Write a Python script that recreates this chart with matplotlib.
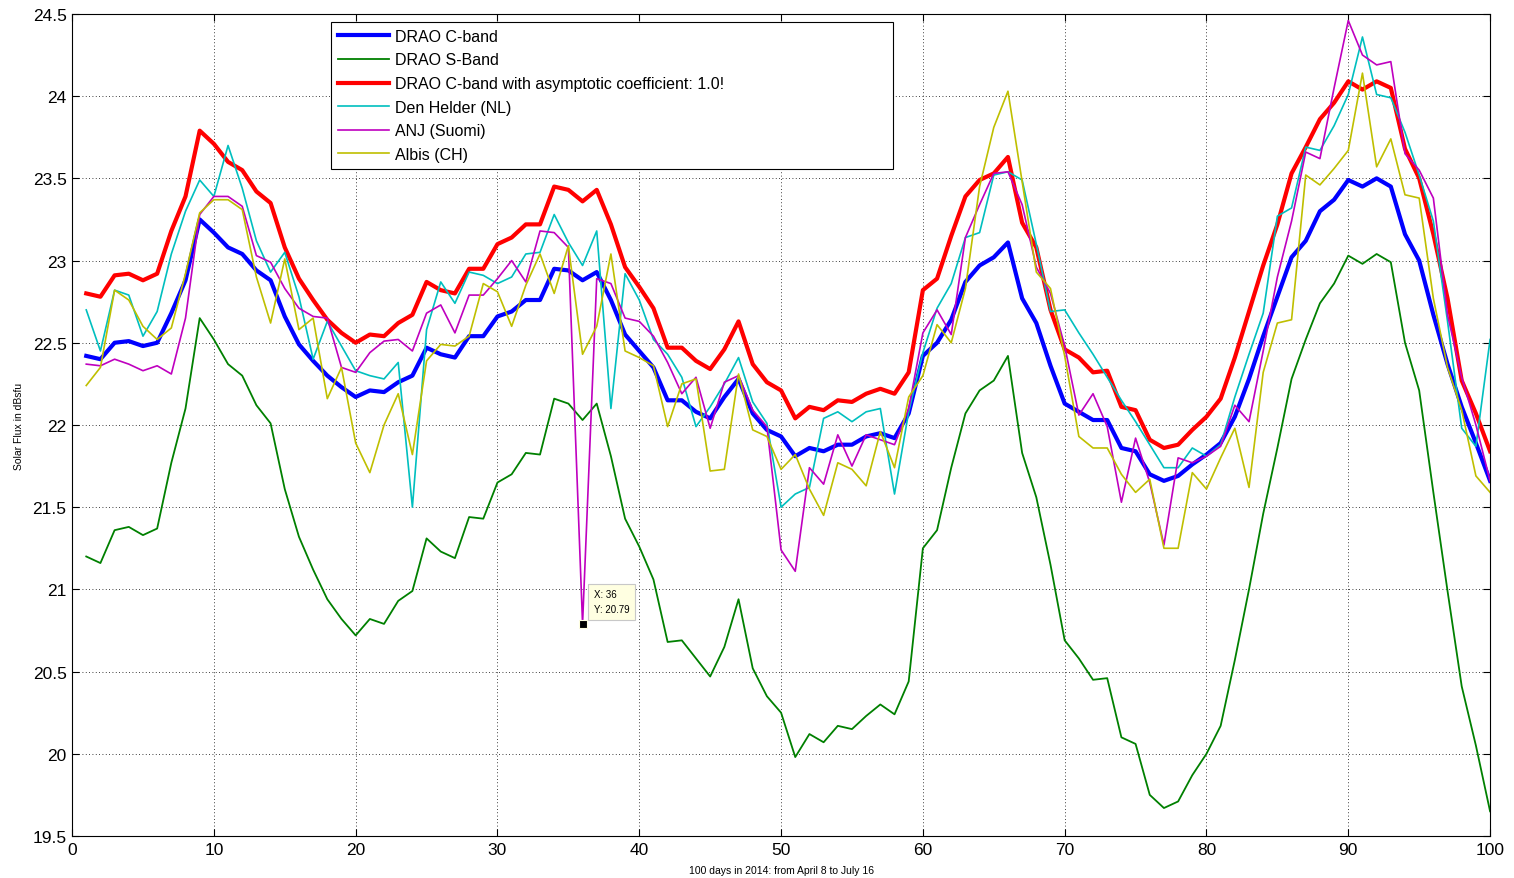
import numpy as np
import matplotlib.pyplot as plt
from matplotlib.ticker import MultipleLocator, FormatStrFormatter

plt.rcParams['font.family'] = ['Liberation Sans', 'DejaVu Sans']

# 100 daily solar flux values (dBsfu), 2014-04-08 .. 2014-07-16
days = np.arange(1, 101)

drao_c = [22.42, 22.40, 22.50, 22.51, 22.48, 22.50, 22.68, 22.88, 23.25, 23.17,
          23.08, 23.04, 22.94, 22.88, 22.66, 22.49, 22.39, 22.30, 22.23, 22.17,
          22.21, 22.20, 22.26, 22.30, 22.47, 22.43, 22.41, 22.54, 22.54, 22.66,
          22.69, 22.76, 22.76, 22.95, 22.94, 22.88, 22.93, 22.76, 22.55, 22.45,
          22.35, 22.15, 22.15, 22.08, 22.04, 22.17, 22.28, 22.07, 21.97, 21.93,
          21.81, 21.86, 21.84, 21.88, 21.88, 21.93, 21.95, 21.92, 22.07, 22.42,
          22.50, 22.64, 22.87, 22.97, 23.02, 23.11, 22.77, 22.62, 22.36, 22.13,
          22.08, 22.03, 22.03, 21.86, 21.84, 21.70, 21.66, 21.69, 21.76, 21.82,
          21.89, 22.05, 22.28, 22.54, 22.78, 23.02, 23.12, 23.30, 23.37, 23.49,
          23.45, 23.50, 23.45, 23.16, 23.00, 22.67, 22.37, 22.11, 21.89, 21.66]

drao_s = [21.20, 21.16, 21.36, 21.38, 21.33, 21.37, 21.77, 22.10, 22.65, 22.52,
          22.37, 22.30, 22.12, 22.01, 21.61, 21.32, 21.12, 20.94, 20.82, 20.72,
          20.82, 20.79, 20.93, 20.99, 21.31, 21.23, 21.19, 21.44, 21.43, 21.65,
          21.70, 21.83, 21.82, 22.16, 22.13, 22.03, 22.13, 21.81, 21.43, 21.26,
          21.06, 20.68, 20.69, 20.58, 20.47, 20.65, 20.94, 20.52, 20.35, 20.25,
          19.98, 20.12, 20.07, 20.17, 20.15, 20.23, 20.30, 20.24, 20.44, 21.25,
          21.36, 21.74, 22.07, 22.21, 22.27, 22.42, 21.83, 21.56, 21.15, 20.69,
          20.58, 20.45, 20.46, 20.10, 20.06, 19.75, 19.67, 19.71, 19.87, 20.00,
          20.17, 20.57, 21.00, 21.46, 21.86, 22.28, 22.52, 22.74, 22.86, 23.03,
          22.98, 23.04, 22.99, 22.50, 22.21, 21.59, 20.99, 20.41, 20.05, 19.65]

drao_c_asym = [22.80, 22.78, 22.91, 22.92, 22.88, 22.92, 23.18, 23.39, 23.79, 23.71,
               23.60, 23.55, 23.42, 23.35, 23.08, 22.89, 22.76, 22.64, 22.56, 22.50,
               22.55, 22.54, 22.62, 22.67, 22.87, 22.82, 22.80, 22.95, 22.95, 23.10,
               23.14, 23.22, 23.22, 23.45, 23.43, 23.36, 23.43, 23.22, 22.96, 22.84,
               22.71, 22.47, 22.47, 22.39, 22.34, 22.46, 22.63, 22.37, 22.26, 22.21,
               22.04, 22.11, 22.09, 22.15, 22.14, 22.19, 22.22, 22.19, 22.32, 22.82,
               22.89, 23.15, 23.39, 23.49, 23.53, 23.63, 23.23, 23.08, 22.70, 22.46,
               22.41, 22.32, 22.33, 22.11, 22.09, 21.91, 21.86, 21.88, 21.97, 22.05,
               22.16, 22.41, 22.69, 22.97, 23.22, 23.53, 23.69, 23.86, 23.96, 24.09,
               24.04, 24.09, 24.05, 23.68, 23.50, 23.16, 22.77, 22.27, 22.07, 21.84]

den_helder = [22.70, 22.45, 22.82, 22.79, 22.54, 22.69, 23.04, 23.30, 23.49, 23.39,
              23.70, 23.44, 23.12, 22.93, 23.05, 22.78, 22.40, 22.63, 22.48, 22.33,
              22.30, 22.28, 22.38, 21.50, 22.58, 22.87, 22.74, 22.93, 22.91, 22.86,
              22.90, 23.04, 23.05, 23.28, 23.11, 22.97, 23.18, 22.10, 22.92, 22.76,
              22.52, 22.43, 22.29, 21.99, 22.11, 22.25, 22.41, 22.14, 22.01, 21.50,
              21.58, 21.62, 22.04, 22.08, 22.02, 22.08, 22.10, 21.58, 22.08, 22.44,
              22.71, 22.86, 23.14, 23.17, 23.52, 23.54, 23.49, 23.10, 22.69, 22.70,
              22.56, 22.43, 22.29, 22.15, 22.02, 21.88, 21.74, 21.74, 21.86, 21.81,
              21.88, 22.17, 22.43, 22.68, 23.27, 23.32, 23.69, 23.67, 23.82, 24.01,
              24.36, 24.01, 23.99, 23.78, 23.52, 23.24, 22.63, 21.98, 21.87, 22.52]

anj = [22.37, 22.36, 22.40, 22.37, 22.33, 22.36, 22.31, 22.65, 23.28, 23.39,
       23.39, 23.33, 23.03, 22.99, 22.83, 22.71, 22.66, 22.65, 22.35, 22.32,
       22.44, 22.51, 22.52, 22.45, 22.68, 22.73, 22.56, 22.79, 22.79, 22.89,
       23.00, 22.87, 23.18, 23.17, 23.08, 20.79, 22.89, 22.86, 22.65, 22.63,
       22.54, 22.38, 22.19, 22.29, 21.98, 22.26, 22.30, 22.09, 21.99, 21.24,
       21.11, 21.74, 21.64, 21.94, 21.75, 21.94, 21.91, 21.88, 22.10, 22.56,
       22.70, 22.55, 23.14, 23.34, 23.53, 23.54, 23.34, 22.96, 22.80, 22.48,
       22.06, 22.19, 21.99, 21.53, 21.92, 21.65, 21.27, 21.80, 21.77, 21.81,
       21.87, 22.12, 22.02, 22.45, 22.90, 23.24, 23.66, 23.62, 24.05, 24.46,
       24.25, 24.19, 24.21, 23.65, 23.55, 23.38, 22.67, 22.29, 22.00, 21.66]

albis = [22.24, 22.35, 22.82, 22.76, 22.60, 22.52, 22.59, 22.92, 23.29, 23.37,
         23.37, 23.31, 22.90, 22.62, 23.01, 22.58, 22.65, 22.16, 22.35, 21.89,
         21.71, 22.00, 22.19, 21.82, 22.39, 22.49, 22.48, 22.54, 22.86, 22.81,
         22.60, 22.85, 23.04, 22.80, 23.09, 22.43, 22.60, 23.04, 22.45, 22.41,
         22.36, 21.99, 22.25, 22.28, 21.72, 21.73, 22.31, 21.97, 21.93, 21.73,
         21.82, 21.61, 21.45, 21.77, 21.73, 21.63, 21.96, 21.74, 22.17, 22.30,
         22.61, 22.50, 22.83, 23.45, 23.81, 24.03, 23.48, 22.93, 22.83, 22.42,
         21.93, 21.86, 21.86, 21.70, 21.59, 21.67, 21.25, 21.25, 21.71, 21.61,
         21.80, 21.98, 21.62, 22.32, 22.62, 22.64, 23.52, 23.46, 23.56, 23.67,
         24.14, 23.57, 23.74, 23.40, 23.38, 22.77, 22.35, 22.09, 21.69, 21.59]

labels = ['DRAO C-band', 'DRAO S-Band',
          'DRAO C-band with asymptotic coefficient: 1.0!',
          'Den Helder (NL)', 'ANJ (Suomi)', 'Albis (CH)']

# data cursor on the ANJ outlier
tip_day = 36

fig = plt.figure(figsize=(15.14, 8.79), dpi=100)
ax = fig.add_axes([0.0476, 0.0478, 0.9366, 0.9352])

ax.plot(days, drao_c, color=(0, 0, 1), lw=3.0, label=labels[0])
ax.plot(days, drao_s, color=(0, 0.5, 0), lw=1.3, label=labels[1])
ax.plot(days, drao_c_asym, color=(1, 0, 0), lw=3.0, label=labels[2])
ax.plot(days, den_helder, color=(0, 0.75, 0.75), lw=1.2, label=labels[3])
ax.plot(days, anj, color=(0.75, 0, 0.75), lw=1.2, label=labels[4])
ax.plot(days, albis, color=(0.75, 0.75, 0), lw=1.2, label=labels[5])

tip_y = anj[tip_day - 1]
ax.plot(tip_day, tip_y, 's', color='black', mec='#ffffe1', mew=0.8, ms=6, zorder=7)
ax.annotate(f'X: {tip_day}\nY: {tip_y:.2f}', xy=(tip_day, tip_y),
            xytext=(11, 10), textcoords='offset pixels', ha='left', va='bottom',
            fontsize=7, linespacing=1.55,
            bbox=dict(boxstyle='square,pad=0.6', fc='#ffffe1', ec='#c8c8c8', lw=0.8),
            zorder=6)

ax.set_xlim(0, 100)
ax.set_ylim(19.5, 24.5)
ax.xaxis.set_major_locator(MultipleLocator(10))
ax.yaxis.set_major_locator(MultipleLocator(0.5))
ax.yaxis.set_major_formatter(FormatStrFormatter('%g'))
ax.tick_params(direction='in', length=5, width=0.8, top=True, right=True,
               labelsize=12.5, pad=4)
ax.grid(True, linestyle=(0, (1, 3)), color='black', lw=0.6)
ax.set_axisbelow(True)
for s in ax.spines.values():
    s.set_linewidth(0.8)

ax.set_xlabel('100 days in 2014: from April 8 to July 16', fontsize=7.5, labelpad=6)
ax.set_ylabel('Solar Flux in dBsfu', fontsize=7.5, labelpad=6)

leg = ax.legend(loc='upper left', bbox_to_anchor=(0.1827, 0.814, 0.396, 0.176),
                mode='expand', fontsize=11.5, fancybox=False, framealpha=1,
                edgecolor='black', handlelength=3.2, handletextpad=0.35,
                labelspacing=0.54, borderpad=0.42, borderaxespad=0)
leg.get_frame().set_linewidth(0.8)

fig.savefig('out.png', dpi=100)
